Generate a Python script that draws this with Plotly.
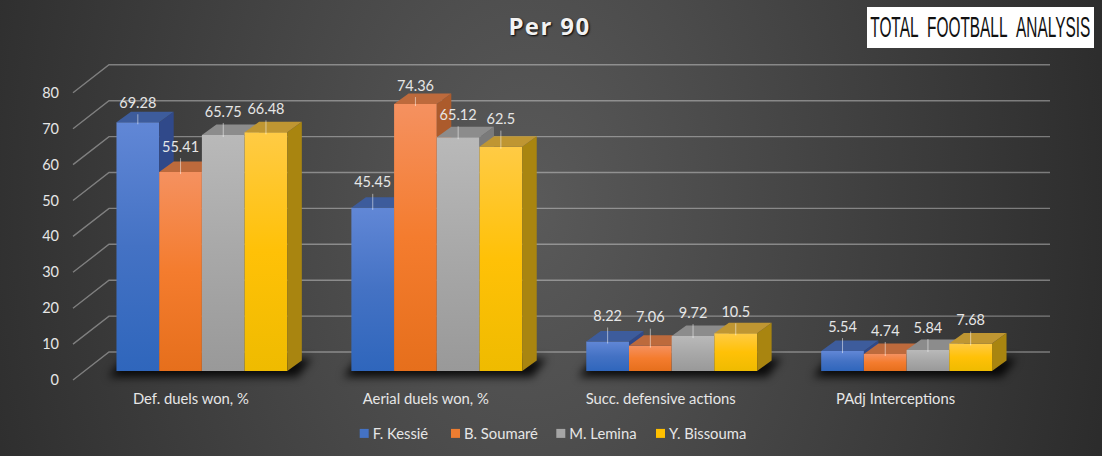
import json
import plotly.graph_objects as go

# ---- data ----
categories = ["Def. duels won, %", "Aerial duels won, %", "Succ. defensive actions", "PAdj Interceptions"]
kessie = [69.28, 45.45, 8.22, 5.54]
soumare = [55.41, 74.36, 7.06, 4.74]
lemina = [65.75, 65.12, 9.72, 5.84]
bissouma = [66.48, 62.5, 10.5, 7.68]
names = ["F. Kessié", "B. Soumaré", "M. Lemina", "Y. Bissouma"]
y_ticks = [0, 10, 20, 30, 40, 50, 60, 70, 80]
# how far each value label sits above its bar, px, per series
label_lift = [[18, 24, 24, 23], [24, 17, 27, 22], [22, 21, 22, 21], [22, 26, 20, 22]]

series = [kessie, soumare, lemina, bissouma]

# ---- styling ----
W, H = 1102, 456
ML, MB = 60, 68
X0, XS = 190.9, 234.9      # px of category 0, px per category
Y0, YS = 380.0, 3.59       # px of value 0 on the front of the wall, px per unit
xr = [(ML - X0) / XS, (W - X0) / XS]
yr = [(Y0 - (H - MB)) / YS, Y0 / YS]
pxx = lambda p: p / XS
pxy = lambda p: p / YS
BAR_W = 1 / 5.5
BAR_SHIFT = pxx(11)        # bars sit a little right of the label centre
LIFT = pxy(9)              # the front of the bars stands above the wall's front edge
DX, DY = pxx(14.5), pxy(10.5)
WALL_X0, WALL_X1, WALL_X2 = (73 - X0) / XS, (109 - X0) / XS, (1050 - X0) / XS
WALL_DY = pxy(28)
TOP = ["#3D5C9C", "#BD6A3C", "#8C8C8C", "#BF9632"]
SIDE = ["#30498A", "#AC5B2C", "#7A7A7A", "#A98510"]
LEG = ["#4472C4", "#ED7D31", "#A5A5A5", "#FFC000"]
GRAD = [["#6187D6", "#4472C4", "#2F66BC"], ["#F59160", "#F47C2E", "#E66F1C"],
        ["#B9B9B9", "#A8A8A8", "#999999"], ["#FFCB45", "#FFC107", "#EFBB00"]]
TXT = "#E6E6E6"
FONT = "Lato, sans-serif"
LEGEND_TEXT_X = [372.7, 464, 569.3, 669]

fig = go.Figure()
poly = dict(mode="lines", line=dict(width=0), fill="toself", hoverinfo="skip", showlegend=False)

# wall gridlines
wx, wy = [], []
for t in y_ticks:
    wx += [WALL_X0, WALL_X1, WALL_X2, None]
    wy += [t, t + WALL_DY, t + WALL_DY, None]
fig.add_trace(go.Scatter(x=wx, y=wy, mode="lines", hoverinfo="skip", showlegend=False,
                         line=dict(color="rgba(255,255,255,0.36)", width=1.4)))

# soft shadow under each group (blurred in the page script)
sx, sy = [], []
for i in range(len(categories)):
    c = i + BAR_SHIFT
    l, r = c - 2 * BAR_W - pxx(8), c + 2 * BAR_W + pxx(10)
    b, t = LIFT - pxy(6), LIFT + DY + pxy(2)
    sx += [l, r, r + DX, l + DX, None]
    sy += [b, b, t, t, None]
fig.add_trace(go.Scatter(x=sx, y=sy, fillcolor="rgba(0,0,0,0.85)", **poly))

# bars, one overlaid pair of axes per series so later bars hide earlier ones
for j, vals in enumerate(series):
    ax = j + 2
    xa, ya = f"x{ax}", f"y{ax}"
    off = (j - 2) * BAR_W
    tx, ty, sx, sy = [], [], [], []
    for i, v in enumerate(vals):
        l = i + BAR_SHIFT + off
        r = l + BAR_W
        top = v + LIFT
        tx += [l, r, r + DX, l + DX, None]
        ty += [top, top, top + DY, top + DY, None]
        sx += [r, r + DX, r + DX, r, None]
        sy += [top, top + DY, LIFT + DY, LIFT, None]
    fig.add_trace(go.Bar(x=[i + BAR_SHIFT for i in range(len(vals))], y=vals, base=LIFT, width=BAR_W,
                         offset=off, name=names[j], marker=dict(color=LEG[j], line=dict(width=0)),
                         xaxis=xa, yaxis=ya, hoverinfo="skip"))
    fig.add_trace(go.Scatter(x=sx, y=sy, fillcolor=SIDE[j], xaxis=xa, yaxis=ya, **poly))
    fig.add_trace(go.Scatter(x=tx, y=ty, fillcolor=TOP[j], xaxis=xa, yaxis=ya, **poly))

# value labels with leader lines on the topmost axes
lx, ly, ltext, dx, dy = [], [], [], [], []
for j, vals in enumerate(series):
    for i, v in enumerate(vals):
        c = i + BAR_SHIFT + (j - 2) * BAR_W + BAR_W / 2
        top = v + LIFT
        lab = top + pxy(label_lift[j][i])
        lx.append(c); ly.append(lab); ltext.append(f"{v:g}")
        dx += [c, c, None]
        dy += [lab - pxy(10), top - pxy(2), None]
fig.add_trace(go.Scatter(x=dx, y=dy, mode="lines", hoverinfo="skip", showlegend=False, xaxis="x6", yaxis="y6",
                         line=dict(color="rgba(255,255,255,0.5)", width=1)))
fig.add_trace(go.Scatter(x=lx, y=ly, mode="text", text=ltext, hoverinfo="skip", showlegend=False,
                         xaxis="x6", yaxis="y6", textposition="middle center",
                         textfont=dict(family=FONT, size=14.5, color=TXT)))

layout_axes = {}
for k in range(2, 7):
    layout_axes[f"xaxis{k}"] = dict(overlaying="x", anchor=f"y{k}", range=xr, visible=False, fixedrange=True)
    layout_axes[f"yaxis{k}"] = dict(overlaying="y", anchor=f"x{k}", range=yr, visible=False, fixedrange=True)

PW, PH = W - ML, H - MB
fig.update_layout(
    width=W, height=H, autosize=False,
    margin=dict(l=ML, r=0, t=0, b=MB, pad=0),
    paper_bgcolor="rgba(0,0,0,0)", plot_bgcolor="rgba(0,0,0,0)",
    barmode="overlay",
    font=dict(family=FONT, color=TXT, size=14),
    title=dict(text="Per 90", x=(549.5 - ML) / PW, xanchor="center", xref="paper", y=1 - 27 / H, yanchor="middle",
               font=dict(family="Open Sans, sans-serif", size=24, color="#F2F2F2", weight="bold",
                         shadow="1px 1px 2px #000000")),
    xaxis=dict(range=xr, tickvals=list(range(len(categories))), ticktext=categories, showgrid=False,
               zeroline=False, showline=False, ticks="", fixedrange=True, tickfont=dict(size=14.8, color=TXT)),
    yaxis=dict(range=yr, tickvals=y_ticks, showgrid=False, zeroline=False, showline=False, ticks="",
               fixedrange=True, tickfont=dict(size=14.5, color=TXT)),
    legend=dict(orientation="h", x=0.5, xanchor="center", y=-0.118, yanchor="middle",
                font=dict(size=14.8, color=TXT), bgcolor="rgba(0,0,0,0)", itemclick=False, itemdoubleclick=False),
    shapes=[dict(type="rect", xref="paper", yref="paper", layer="above", line=dict(width=0), fillcolor="#FFFFFF",
                 x0=(867 - ML) / PW, x1=(1094 - ML) / PW, y0=1 - 48 / PH, y1=1 - 7 / PH)],
    annotations=[dict(text="TOTAL\u00a0\u00a0FOOTBALL\u00a0\u00a0ANALYSIS", xref="paper", yref="paper", showarrow=False,
                      x=(980.5 - ML) / PW, y=1 - 27 / PH, xanchor="center", yanchor="middle",
                      font=dict(family="Liberation Sans, sans-serif", size=16, color="#111111"))],
    **layout_axes,
)

post = """
var b=document.body; b.style.margin='0'; b.style.overflow='hidden';
b.style.background='radial-gradient(ellipse 56% 200% at 48% 45%, #5A5A5A 0%, #2A2A2A 100%)';
var GR=__GRAD__, LT=__LT__, NS='http://www.w3.org/2000/svg';
var defs=document.querySelector('.main-svg defs');
GR.forEach(function(g,i){var lg=document.createElementNS(NS,'linearGradient');
  lg.setAttribute('id','bargrad'+i);lg.setAttribute('x1','0');lg.setAttribute('y1','0');lg.setAttribute('x2','0');lg.setAttribute('y2','1');
  g.forEach(function(c,k){var s=document.createElementNS(NS,'stop');s.setAttribute('offset',k/(g.length-1));s.setAttribute('stop-color',c);lg.appendChild(s);});
  defs.appendChild(lg);});
document.querySelectorAll('.barlayer .trace').forEach(function(t,i){
  t.querySelectorAll('path').forEach(function(p){p.style.fill='url(#bargrad'+i+')';});});
var tr=document.querySelectorAll('.subplot.xy .scatterlayer .trace');
if(tr[1]) tr[1].style.filter='blur(4px)';
document.querySelectorAll('.legend .traces').forEach(function(t,i){
  var txt=t.querySelector('.legendtext');
  var m=/translate\\(([-\\d.]+)[ ,]*([-\\d.]*)/.exec(t.getAttribute('transform'));
  var d=LT[i]-txt.getBoundingClientRect().left;
  t.setAttribute('transform','translate('+(parseFloat(m[1])+d)+','+(parseFloat(m[2])||0)+')');
  var p=t.querySelector('.legendsymbols path'); var base=p.getAttribute('transform')||'';
  p.setAttribute('transform',base+' scale(0.75)');
  var r=p.getBoundingClientRect(); var dd=(LT[i]-8.5)-(r.left+r.width/2);
  p.setAttribute('transform',base+' translate('+dd+',0) scale(0.75)');
});
var lg=document.querySelector('.legend'); lg.querySelectorAll('clipPath rect').forEach(function(r){r.setAttribute('width','900');});
var sb=lg.querySelector('.scrollbox'); if(sb) sb.removeAttribute('clip-path');
var ti=document.querySelector('.gtitle'); if(ti) ti.style.letterSpacing='1.4px';
var at=document.querySelector('.annotation-text');
if(at){var bb=at.getBBox(); var cy=bb.y+bb.height/2;
  at.setAttribute('transform','translate(0,'+cy+') scale(1,1.85) translate(0,'+(-cy)+')');
  at.setAttribute('textLength','220');at.setAttribute('lengthAdjust','spacingAndGlyphs');}
""".replace("__GRAD__", json.dumps(GRAD)).replace("__LT__", json.dumps(LEGEND_TEXT_X))

fig.write_html("out.html", post_script=post, config={"displayModeBar": False})
